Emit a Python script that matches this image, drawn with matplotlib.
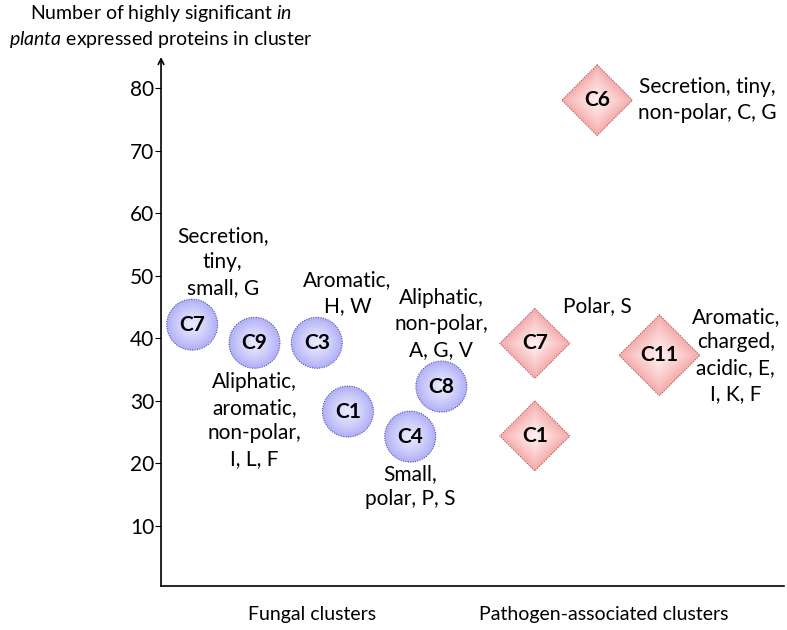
import matplotlib.pyplot as plt
import numpy as np
from matplotlib.path import Path
from matplotlib.colors import to_rgb
import matplotlib.transforms as mtransforms

plt.rcParams['font.family'] = ['Lato', 'DejaVu Sans']
plt.rcParams['mathtext.fontset'] = 'custom'
plt.rcParams['mathtext.rm'] = 'Lato'
plt.rcParams['mathtext.it'] = 'Lato:italic'
plt.rcParams['mathtext.bf'] = 'Lato:bold'

# fungal clusters (circles)
fungal_names = ['C7', 'C9', 'C3', 'C1', 'C4', 'C8']
fungal_x = [5, 15, 25, 30, 40, 45]
fungal_y = [42.2, 39.3, 39.3, 28.3, 24.3, 32.3]
fungal_notes = ['Secretion,\ntiny,\nsmall, G',
                'Aliphatic,\naromatic,\nnon-polar,\nI, L, F',
                'Aromatic,\nH, W',
                '',
                'Small,\npolar, P, S',
                'Aliphatic,\nnon-polar,\nA, G, V']

# pathogen-associated clusters (diamonds)
path_names = ['C6', 'C7', 'C1', 'C11']
path_x = [70, 60, 60, 80]
path_y = [78.1, 39.2, 24.4, 37.3]
path_notes = ['Secretion, tiny,\nnon-polar, C, G', 'Polar, S', '',
              'Aromatic,\ncharged,\nacidic, E,\nI, K, F']

group_labels = ['Fungal clusters', 'Pathogen-associated clusters']
group_x = [24.2, 71.1]
yticks = [10, 20, 30, 40, 50, 60, 70, 80]

# layout bits (offsets of the notes in points, marker sizes)
fungal_offsets = [(22, 45), (0, -56), (22, 36), (0, 0), (0, -36), (0, 45)]
path_offsets = [(79, 0), (45, 27), (0, 0), (55, 0)]
fungal_size = 1350
path_sizes = [2600, 2550, 2550, 3400]

diamond = Path([(0, 1), (1, 0), (0, -1), (-1, 0), (0, 1)],
               [Path.MOVETO, Path.LINETO, Path.LINETO, Path.LINETO, Path.CLOSEPOLY])

fig = plt.figure(figsize=(7.87, 6.3), dpi=100)
ax = fig.add_axes([0.2046, 0.0698, 0.9962 - 0.2046, 0.9095 - 0.0698])
ax.set_xlim(0, 100)
ax.set_ylim(0.4, 85)


def shaded(xs, ys, sizes, marker, edge, centre, line):
    # fake radial shading: stack markers from big/dark to small/light
    n = 30
    e = np.array(to_rgb(edge))
    c = np.array(to_rgb(centre))
    sizes = np.array(sizes, dtype=float)
    for k in range(n):
        f = 1 - k / n
        t = (k / (n - 1)) ** 0.8
        col = e * (1 - t) + c * t
        ax.scatter(xs, ys, s=sizes * f * f, marker=marker, color=col,
                   edgecolors='none', zorder=3 + k * 0.01)
    ax.scatter(xs, ys, s=sizes, marker=marker, facecolors='none',
               edgecolors=line, linewidths=0.7, linestyle=(0, (1, 1.5)), zorder=4)


shaded(fungal_x, fungal_y, [fungal_size] * len(fungal_x), 'o',
       '#aeaef5', '#ececff', '#3a3a9a')
shaded(path_x, path_y, path_sizes, diamond, '#f4aaaa', '#fff0f0', '#a04040')

for name, x, y in zip(fungal_names + path_names, fungal_x + path_x, fungal_y + path_y):
    ax.text(x, y, name, ha='center', va='center', fontsize=15,
            fontweight='bold', zorder=6)

for note, x, y, off in zip(fungal_notes + path_notes, fungal_x + path_x,
                           fungal_y + path_y, fungal_offsets + path_offsets):
    if note:
        ax.annotate(note, (x, y), xytext=off, textcoords='offset points',
                    ha='center', va='center', multialignment='center',
                    fontsize=15, linespacing=1.36, zorder=6)

# axes: left arrow, bottom line
for s in ['top', 'right', 'left']:
    ax.spines[s].set_visible(False)
ax.spines['bottom'].set_linewidth(1.2)
ax.annotate('', xy=(0, 1), xytext=(0, 0), xycoords='axes fraction',
            arrowprops=dict(arrowstyle='->', lw=1.2, color='black',
                            shrinkA=0, shrinkB=0))
ax.set_xticks([])
ax.set_yticks(yticks)
ax.tick_params(axis='y', length=4, width=0.8, labelsize=15, pad=1)

trans = mtransforms.blended_transform_factory(ax.transData, ax.transAxes)
for lab, gx in zip(group_labels, group_x):
    ax.text(gx, -0.054, lab, transform=trans, ha='center', va='center', fontsize=14)

ax.text(0, 1.058, 'Number of highly significant $\\mathit{in}$\n'
        '$\\mathit{planta}$ expressed proteins in cluster',
        transform=ax.transAxes, ha='center', va='center',
        multialignment='center', fontsize=14, linespacing=1.3)

fig.savefig('out.png', dpi=100)
